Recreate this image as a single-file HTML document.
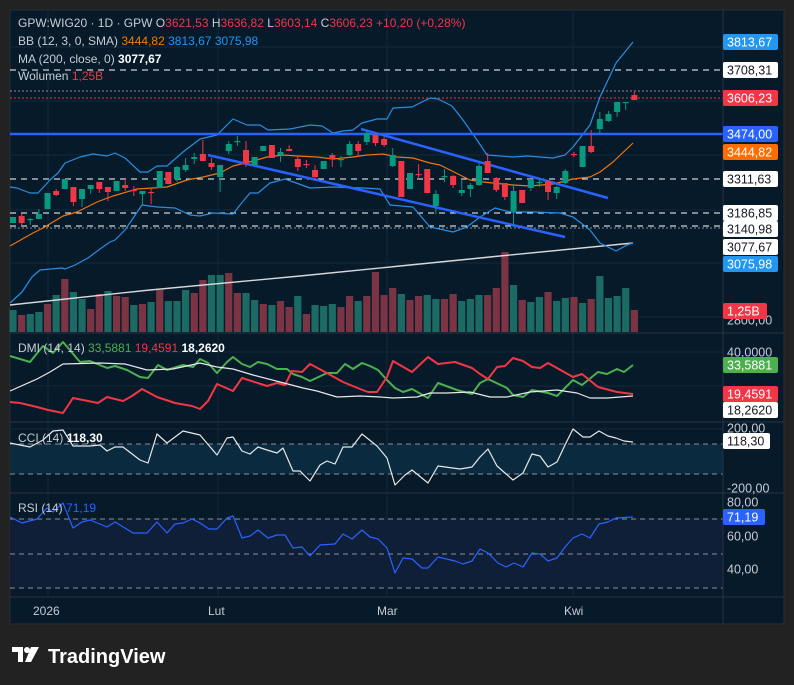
<!DOCTYPE html>
<html><head><meta charset="utf-8">
<style>
html,body{margin:0;padding:0;background:#222222;width:794px;height:685px;overflow:hidden;font-family:"Liberation Sans",sans-serif;}
svg{position:absolute;left:0;top:0;}
text{font-family:"Liberation Sans",sans-serif;}
</style></head><body>
<svg id="s" width="794" height="685" xmlns="http://www.w3.org/2000/svg">
<rect x="0" y="0" width="794" height="685" fill="#222222"/>
<rect x="10" y="10" width="774" height="614" fill="#061a2a" stroke="#2a2e39" stroke-width="1"/>
<g id="grid" stroke="#13283a" stroke-width="1"></g>
<g id="plot"></g>
<!-- separators -->
<line x1="10" y1="333" x2="784" y2="333" stroke="#2a3340"/>
<line x1="10" y1="422" x2="784" y2="422" stroke="#2a3340"/>
<line x1="10" y1="493" x2="784" y2="493" stroke="#2a3340"/>
<line x1="10" y1="597" x2="784" y2="597" stroke="#2a3340"/>
<line x1="723" y1="10" x2="723" y2="624" stroke="#2a3340"/>
<g id="labels"></g>
<g font-size="12" fill="#c8ccd4">
<text x="33" y="615" font-size="12">2026</text>
<text x="208" y="615">Lut</text>
<text x="377" y="615">Mar</text>
<text x="564" y="615">Kwi</text>
</g>
<g fill="#ffffff">
<path d="M12 647 h11 v15 h-5 v-10 h-6 z"/>
<circle cx="27" cy="650" r="3"/>
<path d="M31 647 h8 l-8 15 h-6 z"/>
</g>
<text x="48" y="663" font-size="20" font-weight="bold" fill="#ffffff">TradingView</text>
</svg>
<script>
const NS="http://www.w3.org/2000/svg";
function el(p,t,a,txt){const e=document.createElementNS(NS,t);for(const k in a)e.setAttribute(k,a[k]);if(txt!==undefined)e.textContent=txt;p.appendChild(e);return e;}
const G=document.getElementById('grid'),P=document.getElementById('plot'),L=document.getElementById('labels');
[48,218,387,573].forEach(x=>el(G,'line',{x1:x,y1:10,x2:x,y2:597}));
[47,101,155,210,263,317,352,386,429,459,519,536,554,569].forEach(y=>el(G,'line',{x1:10,y1:y,x2:723,y2:y}));
// CCI & RSI bands
el(P,'rect',{x:10,y:444,width:713,height:30,fill:'#0a2a40'});
el(P,'rect',{x:10,y:519,width:713,height:69,fill:'#0f1f38'});
function hl(y,c,da,w,x2){el(P,'line',{x1:10,y1:y,x2:x2||723,y2:y,stroke:c,'stroke-dasharray':da,'stroke-width':w||1});}
hl(444,'#8a8f99','5,4');hl(474,'#8a8f99','5,4');
hl(519,'#8a8f99','5,4');hl(554,'#8a8f99','5,4');hl(588,'#8a8f99','5,4');
// main horizontal lines
hl(70,'#ffffff','6,5');hl(91,'#8a8f99','2,2');hl(98,'#f23645','2,2');
hl(179,'#ffffff','6,5');hl(213,'#ffffff','6,5');hl(226,'#ffffff','6,5');hl(228,'#8a8f99','2,2');
// volume
const vol=[310,315,314,312,304,295,279,292,299,309,294,291,296,297,305,304,302,290,301,301,290,293,280,275,275,273,293,293,300,304,305,301,307,296,314,305,306,304,307,296,301,296,272,
295,288,294,300,296,295,299,299,294,301,299,295,295,288,252,285,300,302,297,292,301,298,297,303,299,276,298,296,288,310];
const vc="grgg rgrggrrgrrgrgrgggrrggrrggrgrrgrgggrrgrr".replace(/ /g,'');
const vc2="rrgrrggrrgggrrrgrggrggrgrggggr";
const X=i=>13+i*8.63;
for(let i=0;i<73;i++){const c=i<43?(vc[i]||'g'):vc2[i-43];const y=vol[i];
el(P,'rect',{x:X(i)-3.6,y:y,width:7.2,height:332-y,fill:c=='g'?'#1b6a63':'#7b3444'});}
function pl(pts,c,w){el(P,'polyline',{points:pts.map(p=>p.join(',')).join(' '),fill:'none',stroke:c,'stroke-width':w||1,'stroke-linejoin':'round'});}
// MA200
pl([[10,305],[150,290],[300,276],[400,266],[500,256],[633,243]],'#d8d8d8',1.4);
// BB
pl([[10,187],[17,188],[30,193],[38,193],[50,180],[58,173],[65,163],[80,157],[93,154],[107,156],[115,153],[125,158],[140,172],[148,172],[157,166],[167,166],[183,152],[200,139],[217,135],[233,119],[247,125],[260,125],[268,130],[290,129],[310,125],[322,126],[333,133],[343,131],[353,130],[362,123],[377,119],[387,119],[393,108],[412,107],[430,98],[438,99],[452,106],[463,120],[477,140],[487,155],[513,157],[527,156],[553,158],[565,155],[573,147],[590,125],[600,97],[616,63],[633,42]],'#2a8ee0',1.2);
pl([[10,303],[22,292],[32,277],[40,270],[62,268],[65,269],[75,265],[88,258],[100,249],[110,242],[115,240],[125,230],[142,205],[157,207],[175,208],[190,215],[200,216],[213,213],[233,214],[240,205],[250,193],[258,193],[270,183],[285,179],[310,188],[333,187],[363,188],[380,189],[390,205],[413,207],[430,227],[453,232],[467,227],[480,217],[495,208],[510,212],[533,212],[560,213],[573,217],[590,230],[600,243],[616,251],[627,245],[633,243]],'#2a8ee0',1.2);
pl([[10,246],[33,233],[43,228],[63,216],[77,212],[97,202],[113,196],[137,189],[153,188],[167,187],[187,180],[203,177],[220,173],[233,166],[253,161],[267,157],[283,155],[297,156],[317,157],[333,159],[353,157],[367,155],[383,154],[397,157],[413,158],[430,163],[440,165],[460,175],[470,180],[483,182],[513,185],[530,186],[553,184],[573,179],[590,177],[600,172],[613,162],[633,143]],'#f0750f',1.2);
// thick blue line + trendlines
hl(134,'#2962ff',null,2.5);
pl([[208,155],[565,237]],'#2962ff',2.5);
pl([[361,129],[608,198]],'#2962ff',2.5);
// candles [top,bottom,color,wickTop,wickBot]
const C=[[217,223,'g'],[216,223,'r',214,226],[219,219,'g',218,225],[214,219,'g',209,219],[193,209,'g'],[191,195,'r',189,196],[179,189,'g'],[187,202,'r',187,206],[189,199,'g',189,207],[185,189,'g',185,194],[182,189,'r',182,193],[187,192,'r',187,201],[181,191,'g'],[185,188,'r',179,191],[190,190,'r',186,196],[191,194,'g',191,205],[192,192,'r',188,204],[171,188,'g'],[172,184,'r'],[167,179,'g',166,182],[165,170,'g',158,172],[157,159,'g',153,164],[154,161,'r',140,161],[163,167,'r',158,170],[165,177,'g',165,192],[144,151,'g',141,154],[141,141,'g',136,146],[150,163,'r',141,167],[157,165,'g'],[146,151,'g'],[145,158,'r'],[152,155,'g',148,162],[149,151,'r',145,151],[159,167,'r',156,171],[164,164,'r',160,168],[170,177,'r',165,180],[161,169,'g'],[155,159,'r',153,167],[159,159,'g',156,167],[144,155,'g',141,156],[144,151,'r',141,157],[133,142,'g',130,145],[135,143,'r',133,146],
[139,145,'r',137,147],[155,166,'g',148,167],[161,197,'r'],[173,189,'g'],[174,174,'r',164,180],[169,193,'r'],[194,206,'g',190,214],[176,176,'g',169,182],[176,185,'r',175,188],[190,193,'g',180,196],[185,189,'g',183,197],[166,185,'g',163,186],[161,173,'r',153,173],[178,190,'r',177,192],[183,197,'r',183,200],[191,211,'g',184,227],[190,203,'r'],[179,188,'g',179,191],[182,182,'g',178,187],[181,192,'r',180,200],[187,193,'g',186,199],[171,183,'g',169,184],[154,154,'r',152,157],[146,167,'g'],[146,152,'r',130,153],[119,129,'g',112,134],[114,121,'g',111,122],[102,112,'g',102,117],[102,102,'g',102,110],[95,100,'r',91,100]];
C.forEach((c,i)=>{const x=X(i),col=c[2]=='g'?'#089981':'#f23645';const wt=c[3]||c[0],wb=c[4]||c[1];
el(P,'line',{x1:x,y1:wt,x2:x,y2:wb,stroke:col,'stroke-width':1});
el(P,'rect',{x:x-3,y:c[0],width:6,height:Math.max(1.2,c[1]-c[0]),fill:col});});
// DMI
pl([[10,356],[30,362],[43,346],[53,353],[63,342],[80,362],[90,361],[107,368],[115,366],[127,370],[140,377],[148,378],[158,365],[167,370],[183,365],[193,367],[200,359],[208,363],[217,373],[227,362],[233,357],[242,364],[250,367],[258,362],[267,364],[277,369],[287,369],[293,374],[302,377],[310,381],[327,373],[337,373],[345,364],[353,369],[362,363],[370,366],[378,370],[387,380],[395,388],[403,392],[412,389],[428,398],[438,383],[457,390],[472,394],[480,383],[488,379],[507,388],[513,395],[523,397],[532,390],[548,393],[557,396],[573,380],[582,385],[598,372],[607,374],[617,369],[624,372],[633,365]],'#4caf50',2);
pl([[10,402],[20,403],[37,407],[48,410],[63,413],[73,398],[83,400],[98,403],[107,397],[123,401],[132,396],[142,389],[157,397],[175,403],[192,406],[200,409],[208,401],[217,384],[233,391],[242,378],[267,386],[277,383],[285,385],[292,371],[302,372],[310,364],[325,372],[343,382],[360,389],[368,392],[377,392],[387,377],[393,361],[405,368],[412,372],[428,357],[438,364],[455,362],[472,368],[480,374],[488,379],[497,367],[505,366],[513,358],[523,361],[532,367],[540,368],[548,363],[573,377],[582,374],[598,387],[617,392],[633,394]],'#f23645',2);
pl([[10,391],[37,379],[50,372],[63,364],[100,363],[125,364],[147,370],[173,369],[200,363],[217,367],[233,369],[253,375],[280,382],[303,388],[317,391],[337,397],[360,396],[380,397],[393,398],[417,397],[430,393],[447,393],[470,392],[490,397],[507,397],[530,392],[557,390],[577,393],[590,398],[607,398],[633,396]],'#e8e8e8',1.2);
// CCI
pl([[10,443],[30,447],[43,440],[53,431],[63,430],[73,446],[90,446],[100,445],[107,451],[115,447],[123,447],[140,460],[148,463],[157,434],[167,443],[183,431],[200,435],[217,455],[227,438],[233,437],[242,451],[250,454],[258,447],[267,450],[277,453],[283,448],[293,471],[300,471],[310,481],[320,465],[327,461],[335,464],[343,447],[352,447],[362,434],[377,446],[387,458],[395,485],[405,475],[412,470],[428,483],[438,466],[460,469],[472,467],[480,457],[488,449],[497,466],[505,473],[513,480],[523,473],[532,454],[540,456],[548,467],[557,462],[565,445],[573,429],[583,437],[590,437],[599,431],[608,436],[616,438],[624,441],[633,442]],'#e8e8e8',1.2);
// RSI
pl([[10,517],[22,523],[37,519],[47,508],[53,512],[63,503],[73,528],[82,522],[90,520],[107,527],[115,522],[133,533],[147,533],[157,522],[167,533],[175,524],[183,523],[192,519],[200,523],[209,529],[217,529],[227,518],[233,516],[242,538],[250,536],[258,530],[268,538],[277,535],[285,535],[293,548],[302,547],[310,556],[320,545],[335,544],[343,534],[352,539],[362,530],[370,537],[378,539],[387,548],[395,573],[403,558],[412,559],[422,568],[428,568],[438,557],[455,561],[463,564],[472,561],[480,549],[488,553],[498,563],[506,567],[514,563],[523,567],[532,553],[540,554],[548,561],[557,558],[565,547],[573,538],[582,534],[590,538],[599,524],[608,522],[616,518],[633,517]],'#2962ff',1.2);
// axis labels
function box(y,txt,bg,fg,w){el(L,'rect',{x:723,y:y-8,width:w||55,height:16,rx:2,fill:bg});el(L,'text',{x:727,y:y+4.5,'font-size':12.5,fill:fg},txt);}
function tx(y,txt){el(L,'text',{x:727,y:y+4.5,'font-size':12.5,fill:'#c8ccd4'},txt);}
tx(320,'2800,00');
box(42,'3813,67','#2196f3','#fff');box(70,'3708,31','#ffffff','#131722');box(98,'3606,23','#f23645','#fff');
box(134,'3474,00','#2962ff','#fff');box(152,'3444,82','#ff6d00','#fff');box(179,'3311,63','#ffffff','#131722');
box(213,'3186,85','#ffffff','#131722');box(229,'3140,98','#ffffff','#131722');box(247,'3077,67','#ffffff','#131722');box(264,'3075,98','#2196f3','#fff');
box(311,'1,25B','#f23645','#fff',44);
tx(352,'40,0000');box(365,'33,5881','#4caf50','#fff');box(394,'19,4591','#f23645','#fff');box(410,'18,2620','#ffffff','#131722');
tx(428,'200,00');box(441,'118,30','#ffffff','#131722',47);tx(488,'-200,00');
tx(502,'80,00');box(517,'71,19','#2962ff','#fff',42);tx(536,'60,00');tx(569,'40,00');
// legends
function leg(x,y,parts){const t=el(L,'text',{x:x,y:y,'font-size':12});parts.forEach(p=>{el(t,'tspan',{fill:p[1],'font-weight':p[2]?'bold':'normal'},p[0]);});}
const g='#c8ccd4',r='#f23645';
leg(18,27,[['GPW:WIG20 · 1D · GPW  ',g],['O',g],['3621,53  ',r],['H',g],['3636,82  ',r],['L',g],['3603,14  ',r],['C',g],['3606,23  ',r],['+10,20 (+0,28%)',r]]);
leg(18,45,[['BB (12, 3, 0, SMA)  ',g],['3444,82  ','#f57c00'],['3813,67  ','#2196f3'],['3075,98','#2196f3']]);
leg(18,63,[['MA (200, close, 0)  ',g],['3077,67','#ffffff',1]]);
leg(18,80,[['Wolumen  ',g],['1,25B',r]]);
leg(18,352,[['DMI (14, 14)  ',g],['33,5881  ','#4caf50'],['19,4591  ',r],['18,2620','#ffffff',1]]);
leg(18,442,[['CCI (14)  ',g],['118,30','#ffffff',1]]);
leg(18,512,[['RSI (14)  ',g],['71,19','#2962ff']]);
</script>
</body></html>
